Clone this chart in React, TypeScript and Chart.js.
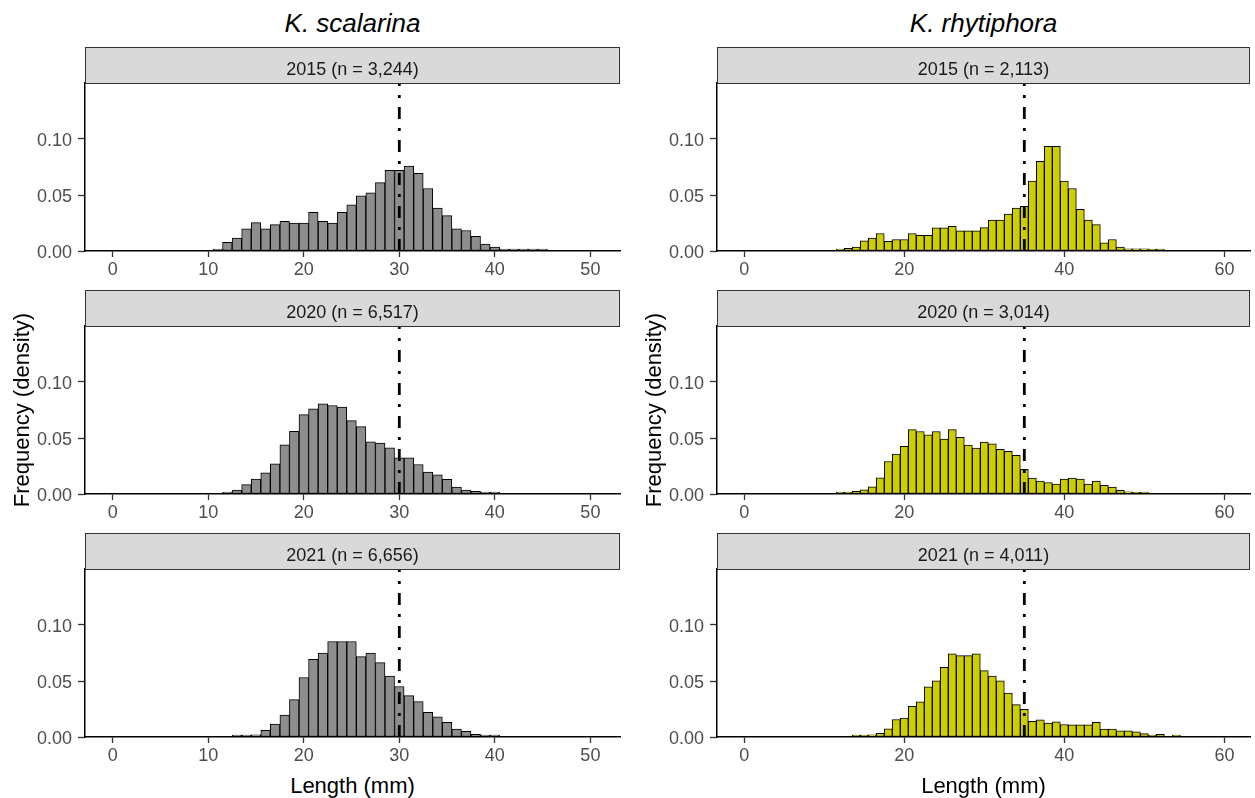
import React, { useEffect, useRef } from "react";
import { Chart, registerables } from "chart.js";

Chart.register(...registerables);

const FONT = '"Liberation Sans", Arial, Helvetica, sans-serif';
Chart.defaults.font.family = FONT;

// ---------------- DATA ----------------
const SPECIES = ["K. scalarina", "K. rhytiphora"];
const YEARS = ["2015", "2020", "2021"];
const SAMPLE_SIZES_SCALARINA = ["3,244", "6,517", "6,656"];
const SAMPLE_SIZES_RHYTIPHORA = ["2,113", "3,014", "4,011"];

const LENGTH_BINS_SCALARINA = [
  10, 11, 12, 13, 14, 15, 16, 17, 18, 19, 20, 21, 22, 23, 24, 25, 26, 27,
  28, 29, 30, 31, 32, 33, 34, 35, 36, 37, 38, 39, 40, 41, 42, 43, 44, 45,
];
const LENGTH_BINS_RHYTIPHORA = [
  11, 12, 13, 14, 15, 16, 17, 18, 19, 20, 21, 22, 23, 24, 25, 26, 27, 28,
  29, 30, 31, 32, 33, 34, 35, 36, 37, 38, 39, 40, 41, 42, 43, 44, 45, 46,
  47, 48, 49, 50, 51, 52, 53, 54, 55,
];

const SCALARINA_2015 = [
  0, 0.0015, 0.0077, 0.0115, 0.0198, 0.0254, 0.0198, 0.0236, 0.0265, 0.025,
  0.025, 0.0345, 0.0265, 0.025, 0.0345, 0.0413, 0.0493, 0.0519, 0.061, 0.072,
  0.072, 0.0758, 0.0693, 0.0558, 0.0383, 0.0316, 0.0198, 0.0183, 0.013,
  0.0062, 0.0035, 0.0012, 0.001, 0.0008, 0.0004, 0.001,
];
const SCALARINA_2020 = [
  0, 0, 0.001, 0.0035, 0.0083, 0.0133, 0.019, 0.027, 0.044, 0.056, 0.0708,
  0.0761, 0.0805, 0.079, 0.0775, 0.0655, 0.0602, 0.0466, 0.0454, 0.0413,
  0.0322, 0.0322, 0.0263, 0.0195, 0.0171, 0.013, 0.0062, 0.0035, 0.0024,
  0.0012, 0.0004, 0, 0, 0, 0, 0,
];
const SCALARINA_2021 = [
  0, 0, 0, 0.0007, 0.001, 0.002, 0.006, 0.0115, 0.0195, 0.0333, 0.0531,
  0.0693, 0.075, 0.0853, 0.0853, 0.0853, 0.0717, 0.075, 0.0664, 0.0543,
  0.0451, 0.0369, 0.0316, 0.0221, 0.018, 0.013, 0.0071, 0.005, 0.0024,
  0.0012, 0.0009, 0, 0, 0, 0, 0,
];

const RHYTIPHORA_2015 = [
  0, 0.0012, 0.0024, 0.0035, 0.0091, 0.0115, 0.0156, 0.0086, 0.0103, 0.0103,
  0.0156, 0.0139, 0.0139, 0.0206, 0.0206, 0.0221, 0.018, 0.018, 0.018,
  0.0209, 0.0277, 0.0277, 0.033, 0.0383, 0.0398, 0.0625, 0.08, 0.0935,
  0.0935, 0.0625, 0.0558, 0.0372, 0.0277, 0.0236, 0.0074, 0.0103, 0.0035,
  0.002, 0.002, 0.002, 0.0012, 0.0009, 0, 0, 0,
];
const RHYTIPHORA_2020 = [
  0, 0.0006, 0.0006, 0.0024, 0.0038, 0.0065, 0.0145, 0.029, 0.0357, 0.0425,
  0.0575, 0.0558, 0.0528, 0.0558, 0.049, 0.0575, 0.0507, 0.0437, 0.041,
  0.0463, 0.0448, 0.0398, 0.038, 0.0345, 0.0221, 0.0142, 0.0115, 0.0103,
  0.0088, 0.0133, 0.0142, 0.0133, 0.0088, 0.0115, 0.0077, 0.0062, 0.0032,
  0.002, 0.0009, 0.0009, 0, 0, 0, 0, 0,
];
const RHYTIPHORA_2021 = [
  0, 0, 0, 0.0009, 0.0009, 0.002, 0.0032, 0.0074, 0.0156, 0.0168, 0.0274,
  0.0313, 0.0448, 0.0501, 0.0622, 0.0743, 0.0726, 0.0726, 0.0743, 0.0593,
  0.0543, 0.0501, 0.0392, 0.0289, 0.0248, 0.0139, 0.0153, 0.0124, 0.0136,
  0.0112, 0.0109, 0.0109, 0.0109, 0.013, 0.0071, 0.0071, 0.0056, 0.0056,
  0.0047, 0.003, 0.0012, 0.0024, 0, 0.0012, 0,
];

const REFERENCE_LENGTHS = [30, 35];
const X_TICKS_SCALARINA = [0, 10, 20, 30, 40, 50];
const X_TICKS_RHYTIPHORA = [0, 20, 40, 60];
const Y_TICKS = [0, 0.05, 0.1];

// ---------------- LAYOUT / STYLE ----------------
const Y_MAX = 0.15;
const X_RANGE = [
  [-2.9, 53.1],
  [-3.4, 63.2],
];
const BAR_COLORS = ["#8E8E8E", "#CDCD00"];
const PANEL_LEFT = [85, 717];
const PANEL_RIGHT = [620, 1250];
const CANVAS_LEFT = [0, 630];
const CANVAS_WIDTH = [630, 625];
const STRIP_TOP = [47, 290, 533];
const STRIP_H = 36;
const PANEL_H = 168;
const X_AXIS_H = 32;

type PanelProps = {
  col: number;
  row: number;
  bins: number[];
  values: number[];
  xTicks: number[];
};

function Panel({ col, row, bins, values, xTicks }: PanelProps) {
  const ref = useRef<HTMLCanvasElement | null>(null);
  const width = CANVAS_WIDTH[col];
  const height = STRIP_H + PANEL_H + X_AXIS_H;
  useEffect(() => {
    if (!ref.current) return;
    const mean = REFERENCE_LENGTHS[col];
    const chart = new Chart(ref.current, {
      type: "bar",
      data: {
        datasets: [
          {
            type: "line",
            data: [
              { x: mean, y: 0 },
              { x: mean, y: Y_MAX },
            ],
            borderColor: "#000000",
            borderWidth: 2.8,
            borderDash: [12, 9, 3, 9],
            pointRadius: 0,
            order: 0,
          } as any,
          {
            type: "bar",
            data: bins.map((b, i) => ({
              x: b,
              y: values[i] > 0 ? values[i] : null,
            })),
            backgroundColor: BAR_COLORS[col],
            borderColor: "#000000",
            borderWidth: 1,
            borderSkipped: false,
            minBarLength: 2,
            barPercentage: 1,
            categoryPercentage: 1,
            order: 1,
          } as any,
        ],
      },
      options: {
        animation: false,
        responsive: false,
        maintainAspectRatio: false,
        layout: {
          padding: {
            top: STRIP_H,
            left: 0,
            right: width - (PANEL_RIGHT[col] - CANVAS_LEFT[col]),
            bottom: 0,
          },
        },
        plugins: {
          legend: { display: false },
          tooltip: { enabled: false },
          title: { display: false },
        },
        scales: {
          x: {
            type: "linear",
            min: X_RANGE[col][0],
            max: X_RANGE[col][1],
            offset: false,
            afterBuildTicks: (axis: any) => {
              axis.ticks = xTicks.map((v) => ({ value: v }));
            },
            afterFit: (axis: any) => {
              axis.height = X_AXIS_H;
            },
            grid: {
              display: true,
              offset: false,
              drawOnChartArea: false,
              drawTicks: true,
              tickLength: 6,
              tickColor: "#333333",
              tickWidth: 1.3,
            },
            border: { display: true, color: "#000000", width: 1.5 },
            ticks: {
              autoSkip: false,
              maxRotation: 0,
              padding: 2,
              color: "#4D4D4D",
              font: { size: 18, family: FONT },
              callback: (v: any) => String(v),
            },
          },
          y: {
            type: "linear",
            min: 0,
            max: Y_MAX,
            afterBuildTicks: (axis: any) => {
              axis.ticks = Y_TICKS.map((v) => ({ value: v }));
            },
            afterFit: (axis: any) => {
              axis.width = PANEL_LEFT[col] - CANVAS_LEFT[col];
            },
            grid: {
              display: true,
              drawOnChartArea: false,
              drawTicks: true,
              tickLength: 7,
              tickColor: "#333333",
              tickWidth: 1.3,
            },
            border: { display: true, color: "#000000", width: 1.5 },
            ticks: {
              padding: 6,
              labelOffset: 2,
              color: "#4D4D4D",
              font: { size: 18, family: FONT },
              callback: (v: any) => Number(v).toFixed(2),
            },
          },
        },
      } as any,
    });
    return () => chart.destroy();
  }, [col, row, bins, values, xTicks, width]);

  return (
    <canvas
      ref={ref}
      width={width}
      height={height}
      style={{
        position: "absolute",
        left: CANVAS_LEFT[col],
        top: STRIP_TOP[row],
        width,
        height,
      }}
    />
  );
}

function TextAt({
  text,
  cx,
  baseline,
  size,
  color,
  italic,
}: {
  text: string;
  cx: number;
  baseline: number;
  size: number;
  color: string;
  italic?: boolean;
}) {
  return (
    <div
      style={{
        position: "absolute",
        left: cx - 300,
        width: 600,
        top: baseline - 0.8465 * size,
        fontSize: size,
        lineHeight: `${size}px`,
        textAlign: "center",
        fontFamily: FONT,
        fontStyle: italic ? "italic" : "normal",
        color,
        whiteSpace: "nowrap",
      }}
    >
      {text}
    </div>
  );
}

function Strip({ col, row, label }: { col: number; row: number; label: string }) {
  const left = PANEL_LEFT[col];
  const width = PANEL_RIGHT[col] - PANEL_LEFT[col];
  return (
    <>
      <div
        style={{
          position: "absolute",
          left,
          top: STRIP_TOP[row],
          width,
          height: STRIP_H + 0.5,
          boxSizing: "border-box",
          background: "#D9D9D9",
          border: "1.3px solid #333333",
        }}
      />
      <TextAt
        text={label}
        cx={left + width / 2}
        baseline={STRIP_TOP[row] + 28}
        size={18}
        color="#1A1A1A"
      />
    </>
  );
}

export default function App() {
  const series = [
    [SCALARINA_2015, SCALARINA_2020, SCALARINA_2021],
    [RHYTIPHORA_2015, RHYTIPHORA_2020, RHYTIPHORA_2021],
  ];
  const bins = [LENGTH_BINS_SCALARINA, LENGTH_BINS_RHYTIPHORA];
  const ticks = [X_TICKS_SCALARINA, X_TICKS_RHYTIPHORA];
  const sizes = [SAMPLE_SIZES_SCALARINA, SAMPLE_SIZES_RHYTIPHORA];

  return (
    <div
      style={{
        position: "absolute",
        left: 0,
        top: 0,
        width: 1255,
        height: 798,
        background: "#FFFFFF",
        overflow: "hidden",
      }}
    >
      {[0, 1].map((col) => {
        const cx = (PANEL_LEFT[col] + PANEL_RIGHT[col]) / 2;
        const midTop = STRIP_TOP[1] + STRIP_H;
        return (
          <React.Fragment key={col}>
            <TextAt
              text={SPECIES[col]}
              cx={cx}
              baseline={31.7}
              size={26}
              color="#000000"
              italic
            />
            {[0, 1, 2].map((row) => (
              <React.Fragment key={row}>
                <Panel
                  col={col}
                  row={row}
                  bins={bins[col]}
                  values={series[col][row]}
                  xTicks={ticks[col]}
                />
                <Strip
                  col={col}
                  row={row}
                  label={`${YEARS[row]} (n = ${sizes[col][row]})`}
                />
              </React.Fragment>
            ))}
            <TextAt
              text="Length (mm)"
              cx={cx}
              baseline={794}
              size={22}
              color="#000000"
            />
            <div
              style={{
                position: "absolute",
                left: PANEL_LEFT[col] - 63.3 - 300,
                top: midTop + PANEL_H / 2 - 11,
                width: 600,
                fontSize: 22,
                lineHeight: "22px",
                textAlign: "center",
                fontFamily: FONT,
                color: "#000000",
                whiteSpace: "nowrap",
                transform: "rotate(-90deg)",
                transformOrigin: "50% 50%",
              }}
            >
              Frequency (density)
            </div>
          </React.Fragment>
        );
      })}
    </div>
  );
}
